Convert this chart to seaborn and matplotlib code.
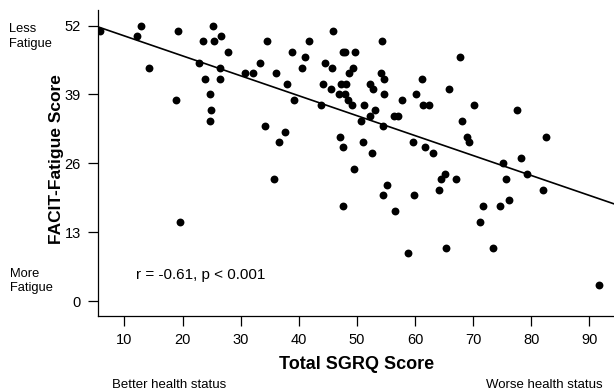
import numpy as np
import pandas as pd
import matplotlib
matplotlib.use("Agg")
import matplotlib.pyplot as plt
import seaborn as sns

# Total SGRQ score (x) and FACIT-Fatigue score (y)
sgrq = [5.8, 12.8, 12.1, 14.3, 19.2, 18.8, 25.3, 23.5, 25.5, 26.7,
        27.9, 22.9, 26.5, 23.9, 26.4, 24.7, 24.9, 24.8, 30.8, 32.2,
        33.3, 34.6, 34.2, 36.1, 36.6, 37.6, 38.0, 38.8, 39.2, 40.5,
        41.0, 41.8, 43.9, 44.1, 44.6, 45.6, 45.8, 45.9, 46.9, 47.1,
        47.3, 47.6, 47.7, 48.0, 47.9, 48.2, 48.4, 48.7, 49.2, 49.4,
        49.7, 50.7, 51.0, 51.2, 52.2, 52.3, 52.6, 52.8, 53.1, 54.1,
        54.3, 54.5, 54.7, 54.7, 56.4, 57.0, 57.7, 59.7, 60.1, 61.2,
        61.3, 62.4, 61.8, 63.1, 67.8, 65.8, 70.2, 68.1, 77.5, 69.0,
        69.3, 82.5, 78.2, 75.2, 65.2, 64.5, 67.1, 79.3, 75.7, 64.1,
        82.0, 71.7, 74.6, 76.2, 71.2, 65.3, 73.4, 91.6, 35.8, 49.5,
        55.2, 54.5, 59.8, 47.7, 56.6, 58.8, 19.5]
facit = [51, 52, 50, 44, 51, 38, 52, 49, 49, 50,
         47, 45, 44, 42, 42, 39, 36, 34, 43, 43,
         45, 49, 33, 43, 30, 32, 41, 47, 38, 44,
         46, 49, 37, 41, 45, 40, 44, 51, 39, 31,
         41, 29, 47, 47, 39, 41, 38, 43, 37, 44,
         47, 34, 30, 37, 41, 35, 28, 40, 36, 43,
         49, 33, 42, 39, 35, 35, 38, 30, 39, 42,
         37, 37, 29, 28, 46, 40, 37, 34, 36, 31,
         30, 31, 27, 26, 24, 23, 23, 24, 23, 21,
         21, 18, 18, 19, 15, 10, 10, 3, 23, 25,
         22, 20, 20, 18, 17, 9, 15]

x_ticks = [10, 20, 30, 40, 50, 60, 70, 80, 90]
y_ticks = [0, 13, 26, 39, 52]

df = pd.DataFrame({"Total SGRQ Score": sgrq, "FACIT-Fatigue Score": facit})

sns.set_style("ticks")
plt.rcParams["font.family"] = ["Liberation Sans", "DejaVu Sans"]
plt.rcParams["text.color"] = "black"
plt.rcParams["axes.labelcolor"] = "black"

fig = plt.figure(figsize=(6.14, 3.91), dpi=100)
ax = fig.add_axes([0.160, 0.192, 0.840, 0.782])

ax.set_xlim(5.5, 94.25)
ax.set_ylim(-2.8, 54.9)

sns.regplot(data=df, x="Total SGRQ Score", y="FACIT-Fatigue Score", ax=ax,
            ci=None, truncate=False,
            scatter_kws={"s": 32, "color": "black", "linewidths": 0, "alpha": 1},
            line_kws={"color": "black", "linewidth": 1.2})

ax.set_xlim(5.5, 94.25)
ax.set_ylim(-2.8, 54.9)
ax.set_xticks(x_ticks)
ax.set_yticks(y_ticks)
ax.tick_params(direction="out", length=7.5, width=0.9, labelsize=10.5,
               color="black", labelcolor="black", pad=5)

for side in ["top", "right"]:
    ax.spines[side].set_visible(False)
for side in ["left", "bottom"]:
    ax.spines[side].set_linewidth(0.9)
    ax.spines[side].set_color("black")

ax.set_xlabel("Total SGRQ Score", fontsize=13, fontweight="bold")
ax.set_ylabel("FACIT-Fatigue Score", fontsize=12.5, fontweight="bold")
ax.xaxis.set_label_coords(0.5017, -0.13)
ax.yaxis.set_label_coords(-0.066, 0.513)

ax.text(12.0, 4.85, "r = -0.61, p < 0.001", fontsize=11, va="center", ha="left")

fig.text(9 / 614, 1 - 36.5 / 391, "Less\nFatigue", fontsize=9.3,
         ha="left", va="center", linespacing=1.25)
fig.text(10 / 614, 1 - 281 / 391, "More\nFatigue", fontsize=9.3,
         ha="left", va="center", linespacing=1.25)
fig.text(112.3 / 614, 1 - 388.5 / 391, "Better health status", fontsize=9.5,
         ha="left", va="baseline")
fig.text(602.7 / 614, 1 - 388.5 / 391, "Worse health status", fontsize=9.5,
         ha="right", va="baseline")

fig.savefig("out.png", dpi=100)
